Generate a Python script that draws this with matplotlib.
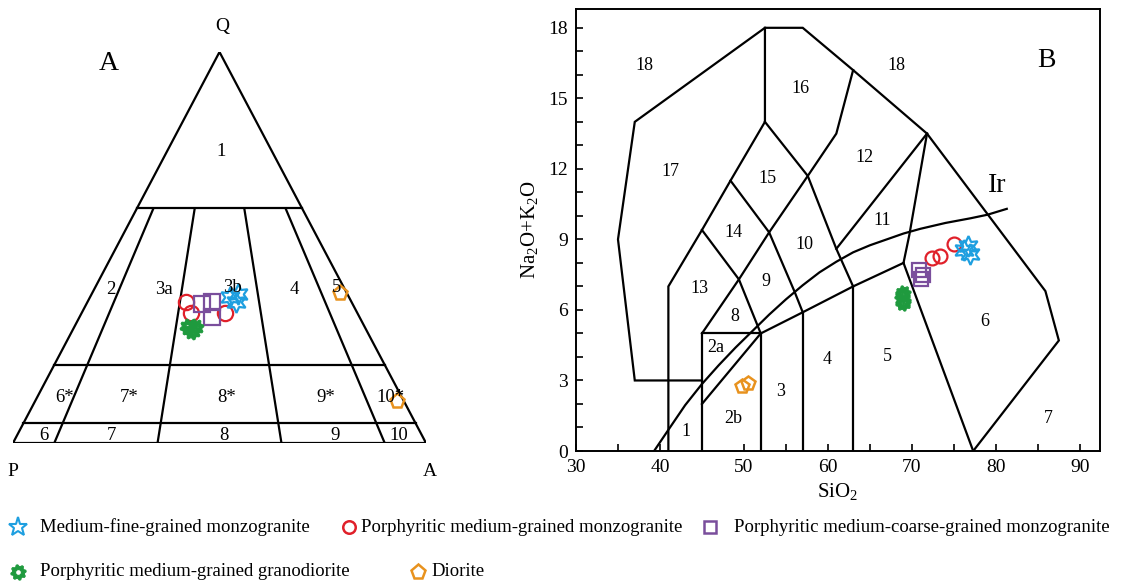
import numpy as np
import matplotlib
matplotlib.use("Agg")
import matplotlib.pyplot as plt
from matplotlib.path import Path
from matplotlib.lines import Line2D

plt.rcParams['font.family'] = ['Liberation Serif', 'DejaVu Serif']
plt.rcParams['mathtext.fontset'] = 'custom'
plt.rcParams['mathtext.rm'] = 'Liberation Serif'
plt.rcParams['mathtext.it'] = 'Liberation Serif:italic'
plt.rcParams['mathtext.bf'] = 'Liberation Serif:bold'

# ---------------- data ----------------
# QAP ternary (percent): Q, A, P
tri_star_Q = [37.3, 38.1, 36.1]
tri_star_A = [33.9, 35.4, 36.0]
tri_circle_Q = [36.1, 33.2, 33.2]
tri_circle_A = [23.8, 26.5, 34.7]
tri_square_Q = [35.6, 36.1, 32.2]
tri_square_A = [28.0, 30.1, 32.1]
tri_gear_Q = [29.7, 29.7, 28.6]
tri_gear_A = [27.6, 29.2, 29.0]
tri_pent_Q = [38.4, 10.7]
tri_pent_A = [60.0, 87.6]

# TAS: SiO2, Na2O+K2O
tas_star_si = [76.2, 76.7, 76.9]
tas_star_alk = [8.55, 8.7, 8.4]
tas_circle_si = [75.0, 72.4, 73.4]
tas_circle_alk = [8.8, 8.2, 8.3]
tas_square_si = [70.8, 71.3, 71.1]
tas_square_alk = [7.7, 7.5, 7.3]
tas_gear_si = [68.8, 69.0, 68.9, 69.0]
tas_gear_alk = [6.6, 6.4, 6.3, 6.7]
tas_pent_si = [49.8, 50.5]
tas_pent_alk = [2.75, 2.9]

legend_labels = ["Medium-fine-grained monzogranite",
                 "Porphyritic medium-grained monzogranite",
                 "Porphyritic medium-coarse-grained monzogranite",
                 "Porphyritic medium-grained granodiorite",
                 "Diorite"]

C_BLUE = '#1E9FE0'
C_RED = '#E0202A'
C_PURP = '#7A4E9C'
C_GREEN = '#1F9A3E'
C_ORNG = '#E8921E'

# gear marker
def gear_path(n=8, r_out=1.0, r_in=0.78, r_hole=0.38):
    angs = np.linspace(0, 2*np.pi, 4*n, endpoint=False)
    rad = np.tile([r_out, r_out, r_in, r_in], n)
    ang = angs + np.pi/(4*n)
    vx = rad*np.cos(ang); vy = rad*np.sin(ang)
    outer = np.column_stack([vx, vy])
    outer = np.vstack([outer, outer[:1]])
    t = np.linspace(0, 2*np.pi, 25)[::-1]
    inner = np.column_stack([r_hole*np.cos(t), r_hole*np.sin(t)])
    verts = np.vstack([outer, inner])
    codes = ([Path.MOVETO] + [Path.LINETO]*(len(outer)-2) + [Path.CLOSEPOLY] +
             [Path.MOVETO] + [Path.LINETO]*(len(inner)-2) + [Path.CLOSEPOLY])
    return Path(verts, codes)

GEAR = gear_path()

W, H = 1137, 585
fig = plt.figure(figsize=(W/100, H/100), dpi=100)

def ax_rect(l, r, t, b):
    return [l/W, 1-b/H, (r-l)/W, (b-t)/H]

# ---------------- panel A: QAP ----------------
axA = fig.add_axes(ax_rect(13, 426, 52, 443))
axA.set_xlim(0, 1); axA.set_ylim(0, 1)
axA.axis('off')

def tern(Q, A):
    Q = np.asarray(Q)/100.0; A = np.asarray(A)/100.0
    return A + Q/2.0, Q

def ratio_pt(r, q):
    # point with A/(A+P)=r at quartz fraction q
    return r*(1-q) + q/2.0, q

lk = dict(color='black', lw=1.6, solid_joinstyle='miter')
# outer triangle
axA.plot([0, 1, 0.5, 0], [0, 0, 1, 0], **lk)
# horizontal lines
for q in [0.6, 0.2, 0.05]:
    x0, _ = ratio_pt(0, q); x1, _ = ratio_pt(1, q)
    axA.plot([x0, x1], [q, q], **lk)
# ratio lines
for r in [0.1, 0.35, 0.65, 0.9]:
    xa, ya = ratio_pt(r, 0); xb, yb = ratio_pt(r, 0.6)
    axA.plot([xa, xb], [ya, yb], **lk)

def ptext(ax, px, py, s, x0=13, x1=426, y0=443, y1=52, **kw):
    x = (px - x0)/(x1 - x0); y = (y0 - py)/(y0 - y1)
    ax.text(x, y, s, ha='center', va='center', clip_on=False, **kw)

fs_lab = 13.5
for px, py, s in [(221, 152, '1'), (111, 289, '2'), (164, 289, '3a'), (232, 287, '3b'),
                  (294, 289, '4'), (337, 287, '5'), (65, 397, '6*'), (129, 397, '7*'),
                  (227, 397, '8*'), (326, 397, '9*'), (390, 397, '10*'),
                  (44, 435, '6'), (111, 436, '7'), (224, 435, '8'), (335, 436, '9'), (399, 435, '10')]:
    ptext(axA, px, py, s, fontsize=fs_lab)
ptext(axA, 222, 26, 'Q', fontsize=14)
ptext(axA, 13, 472, 'P', fontsize=14)
ptext(axA, 430, 472, 'A', fontsize=14)
ptext(axA, 109, 64, 'A', fontsize=20)

ms = 11
x, y = tern(tri_circle_Q, tri_circle_A)
axA.plot(x, y, 'o', ms=ms, mfc='none', mec=C_RED, mew=1.6, ls='none', clip_on=False)
x, y = tern(tri_square_Q, tri_square_A)
axA.plot(x, y, 's', ms=ms, mfc='none', mec=C_PURP, mew=1.6, ls='none', clip_on=False)
x, y = tern(tri_gear_Q, tri_gear_A)
axA.plot(x, y, marker=GEAR, ms=ms+1, mfc=C_GREEN, mec=C_GREEN, mew=0.8, ls='none', clip_on=False)
x, y = tern(tri_star_Q, tri_star_A)
axA.plot(x, y, marker=(6, 1, 0), ms=ms+4, mfc='none', mec=C_BLUE, mew=1.6, ls='none', clip_on=False)
x, y = tern(tri_pent_Q, tri_pent_A)
axA.plot(x, y, 'p', ms=ms, mfc='none', mec=C_ORNG, mew=1.8, ls='none', clip_on=False)

# ---------------- panel B: TAS ----------------
axB = fig.add_axes(ax_rect(576, 1100, 9, 451))
axB.set_xlim(30, 92.4)
axB.set_ylim(0, 18.8)

tas_lines = [
    # outer boundary of fields 17/18
    [(77.3, 0), (87.5, 4.7), (85.9, 6.8), (71.8, 13.5), (63, 16.2), (57, 18), (52.5, 18),
     (37, 14), (35, 9), (37, 3), (45, 3)],
    [(41, 0), (41, 7), (45, 9.4), (48.4, 11.5), (52.5, 14), (52.5, 18)],
    [(45, 0), (45, 5), (52, 5), (52, 0)],
    [(45, 5), (49.4, 7.3), (53, 9.3), (57.6, 11.7), (61, 13.5), (63, 16.2)],
    [(45, 9.4), (49.4, 7.3), (52, 5)],
    [(48.4, 11.5), (53, 9.3), (56.0, 6.8), (57, 5.9)],
    [(52.5, 14), (57.6, 11.7), (61, 8.6), (63, 7)],
    [(45, 2), (52, 5), (57, 5.9), (63, 7), (69, 8)],
    [(57, 0), (57, 5.9)],
    [(63, 0), (63, 7)],
    [(61, 8.6), (71.8, 13.5)],
    [(69, 8), (69.7, 9.2), (71.8, 13.5)],
    [(69, 8), (77.3, 0)],
]
for ln in tas_lines:
    xs, ys = zip(*ln)
    axB.plot(xs, ys, color='black', lw=1.6, solid_joinstyle='miter')

# Irvine & Baragar alkaline/subalkaline boundary
ir_si = [39.3, 41, 43, 45, 47, 49, 51, 53, 55, 57, 59, 61, 63, 65, 67, 69, 71, 74, 77, 79, 81.3]
ir_alk = [0.0, 0.9, 1.95, 2.85, 3.65, 4.4, 5.1, 5.8, 6.45, 7.05, 7.6, 8.05, 8.45, 8.75, 9.0, 9.25, 9.45, 9.7, 9.9, 10.05, 10.3]
axB.plot(ir_si, ir_alk, color='black', lw=1.6)

fsB = 13
for sx, sy, s in [(38.2, 16.4, '18'), (68.1, 16.4, '18'), (56.7, 15.4, '16'), (41.2, 11.9, '17'),
                  (52.8, 11.6, '15'), (64.3, 12.5, '12'), (48.7, 9.3, '14'), (57.2, 8.8, '10'),
                  (66.5, 9.8, '11'), (52.6, 7.2, '9'), (44.7, 6.9, '13'), (48.9, 5.7, '8'),
                  (46.6, 4.4, '2a'), (59.9, 3.9, '4'), (67.1, 4.0, '5'), (78.7, 5.5, '6'),
                  (54.4, 2.55, '3'), (48.7, 1.4, '2b'), (43.1, 0.85, '1'), (86.2, 1.4, '7')]:
    axB.text(sx, sy, s, ha='center', va='center', fontsize=fsB)
axB.text(80.2, 11.3, 'Ir', ha='center', va='center', fontsize=20)
axB.text(86.0, 16.6, 'B', ha='center', va='center', fontsize=20)

msB = 10
axB.plot(tas_circle_si, tas_circle_alk, 'o', ms=msB, mfc='none', mec=C_RED, mew=1.6, ls='none')
axB.plot(tas_square_si, tas_square_alk, 's', ms=msB, mfc='none', mec=C_PURP, mew=1.6, ls='none')
axB.plot(tas_gear_si, tas_gear_alk, marker=GEAR, ms=msB+1, mfc=C_GREEN, mec=C_GREEN, mew=0.8, ls='none')
axB.plot(tas_star_si, tas_star_alk, marker=(6, 1, 0), ms=msB+5, mfc='none', mec=C_BLUE, mew=1.6, ls='none')
axB.plot(tas_pent_si, tas_pent_alk, 'p', ms=msB, mfc='none', mec=C_ORNG, mew=1.8, ls='none')

axB.set_xticks(np.arange(30, 91, 10))
axB.set_xticks(np.arange(35, 91, 10), minor=True)
axB.set_yticks(np.arange(0, 19, 3))
axB.set_yticks(np.arange(0, 19, 1), minor=True)
axB.tick_params(which='both', direction='in', length=5, width=1.2, labelsize=14, pad=6)
for sp in axB.spines.values():
    sp.set_linewidth(1.4)
axB.set_xlabel('SiO$_2$', fontsize=15, labelpad=3)
axB.set_ylabel('Na$_2$O+K$_2$O', fontsize=15, labelpad=6)

# ---------------- legend ----------------
handles = [
    Line2D([], [], marker='*', ms=14, mfc='none', mec=C_BLUE, mew=1.5, ls='none'),
    Line2D([], [], marker='o', ms=9, mfc='none', mec=C_RED, mew=1.8, ls='none'),
    Line2D([], [], marker='s', ms=9, mfc='none', mec=C_PURP, mew=1.8, ls='none'),
    Line2D([], [], marker=GEAR, ms=11, mfc=C_GREEN, mec=C_GREEN, mew=0.8, ls='none'),
    Line2D([], [], marker='p', ms=11, mfc='none', mec=C_ORNG, mew=1.8, ls='none'),
]
leg_pos = [(18, 527, 40), (349, 527, 361), (710, 527, 734), (18, 572, 40), (418, 572, 431)]
for h, lab, (mx, my, tx) in zip(handles, legend_labels, leg_pos):
    fig.add_artist(Line2D([mx/W], [1-my/H], marker=h.get_marker(), ms=h.get_markersize(),
                          mfc=h.get_markerfacecolor(), mec=h.get_markeredgecolor(),
                          mew=h.get_markeredgewidth(), ls='none', transform=fig.transFigure))
    fig.text(tx/W, 1-my/H, lab, ha='left', va='center', fontsize=13.5)

fig.savefig('out.png', dpi=100)
